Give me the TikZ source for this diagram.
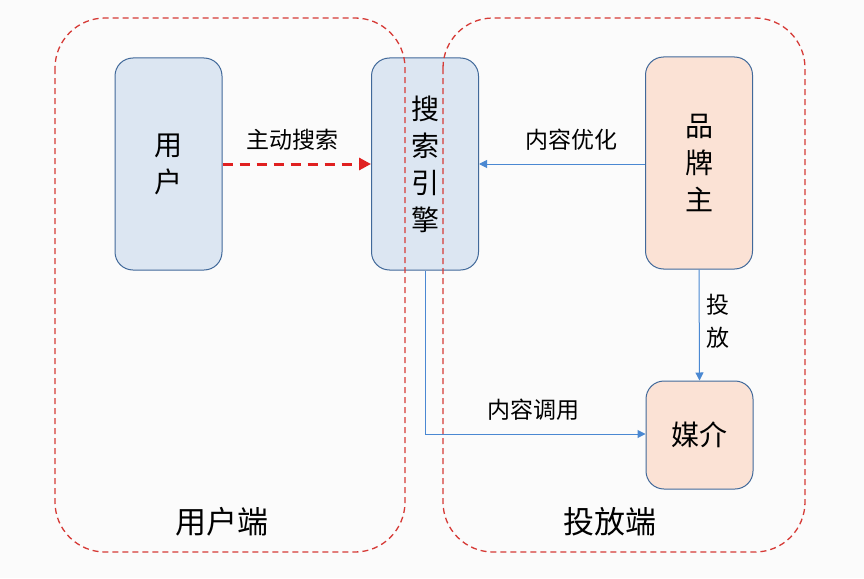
\documentclass[tikz,border=0pt]{standalone}
\usepackage{fontspec}
\setmainfont{Noto Sans CJK SC}
\usetikzlibrary{arrows.meta}
\definecolor{boxblue}{HTML}{DCE6F2}
\definecolor{boxpeach}{HTML}{FBE2D5}
\definecolor{boxedge}{HTML}{41699A}
\definecolor{zonered}{HTML}{D63A36}
\definecolor{linkblue}{HTML}{4A88D2}
\definecolor{dashred}{HTML}{E02020}
\tikzset{
  x=1pt, y=-1pt,
  zone/.style={draw=zonered, dash pattern=on 6pt off 4pt, line width=1.3pt, rounded corners=50pt},
  bluebox/.style={draw=boxedge, line width=1pt, fill=boxblue, rounded corners=18pt, align=center, inner sep=0pt, font=\fontsize{28}{37}\selectfont},
  peachbox/.style={draw=boxedge, line width=1pt, fill=boxpeach, rounded corners=18pt, align=center, inner sep=0pt, font=\fontsize{28}{37}\selectfont},
  link/.style={draw=linkblue, line width=1pt, -{Triangle[length=8pt,width=8pt]}},
  lbl/.style={font=\fontsize{23}{33}\selectfont, align=center, inner sep=0pt},
  zlbl/.style={font=\fontsize{31}{34}\selectfont, inner sep=0pt},
}
\begin{document}
\begin{tikzpicture}
\fill[white!97!gray] (0,0) rectangle (864,578);
\useasboundingbox (0,0) rectangle (864,578);

\node[bluebox, minimum width=107pt, minimum height=212pt] (user) at (168.5,164) {用\\户};
\node[bluebox, minimum width=107pt, minimum height=212pt] (se) at (425,164) {搜\\索\\引\\擎};
\node[peachbox, minimum width=107pt, minimum height=212pt] (brand) at (699,163) {品\\牌\\主};
\node[peachbox, minimum width=107pt, minimum height=108pt] (media) at (699.5,435) {媒介};

\draw[draw=dashred, line width=3pt, dash pattern=on 10pt off 7pt, -{Triangle[length=12pt,width=12pt]}] (user.east |- 0,164) -- (se.west |- 0,164);
\node[lbl] (l1) at (292,140) {主动搜索};

\draw[link] (brand.west |- 0,164) -- (se.east |- 0,164);
\node[lbl] (l2) at (571,140) {内容优化};

\draw[link] (brand.south) -- (media.north);
\node[lbl] (l3) at (718,321) {投\\放};

\coordinate (bend) at (425,434);
\draw[link] (se.south) -- (bend) -- (media.west |- bend);
\node[lbl] (l4) at (533,410) {内容调用};

\node[zlbl] (z1) at (222,522) {用户端};
\node[zlbl] (z2) at (610,522) {投放端};

\draw[zone] (55,18) rectangle (405,552);
\draw[zone] (443,18) rectangle (805,552);
\end{tikzpicture}
\end{document}
